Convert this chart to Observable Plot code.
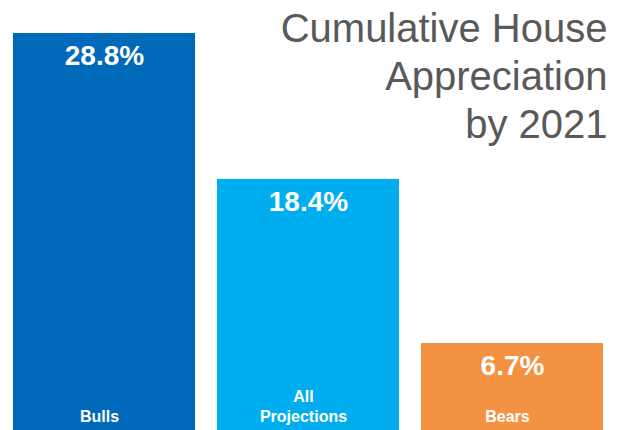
<!DOCTYPE html>
<html>
<head>
<meta charset="utf-8">
<script src="https://cdn.jsdelivr.net/npm/d3@7"></script>
<script src="https://cdn.jsdelivr.net/npm/@observablehq/plot@0.6"></script>
<style>
  html, body { margin: 0; padding: 0; background: #ffffff; }
  #chart svg { display: block; }
</style>
</head>
<body>
<div id="chart"></div>
<script>
const categories = ["Bulls", "All\nProjections", "Bears"];
const values = [28.8, 18.4, 6.7];
const valueLabels = ["28.8%", "18.4%", "6.7%"];
const colors = ["#0069BA", "#00AEEF", "#F39242"];
const titleLines = "Cumulative House\nAppreciation\nby 2021";

const data = categories.map((c, i) => ({category: c, value: values[i], label: valueLabels[i], color: colors[i]}));

const chart = Plot.plot({
  width: 629,
  height: 430,
  marginTop: 0,
  marginRight: 0,
  marginBottom: 0,
  marginLeft: 0,
  style: {background: "#ffffff", fontFamily: "'Liberation Sans', Arial, sans-serif", overflow: "hidden"},
  x: {domain: categories, range: [12, 603], paddingInner: 0.11, paddingOuter: 0, axis: null},
  y: {domain: [0, 28.8], range: [437, 33], axis: null},
  marks: [
    Plot.barY(data, {x: "category", y: "value", fill: "color"}),
    Plot.text(data, {x: "category", y: "value", text: "label", fill: "#ffffff", fontSize: 28, fontWeight: "bold", lineAnchor: "middle", dy: 23}),
    Plot.text(data, {x: "category", y: 0, text: "category", fill: "#ffffff", fontSize: 16, fontWeight: "bold", lineAnchor: "bottom", lineHeight: 1.2, dx: -5, dy: -16}),
    Plot.text([titleLines], {text: d => d, frameAnchor: "top-right", textAnchor: "end", lineAnchor: "top", lineHeight: 1.2, fontSize: 40, fill: "#595959", dx: -22, dy: 7})
  ]
});
document.getElementById("chart").appendChild(chart);
</script>
</body>
</html>
